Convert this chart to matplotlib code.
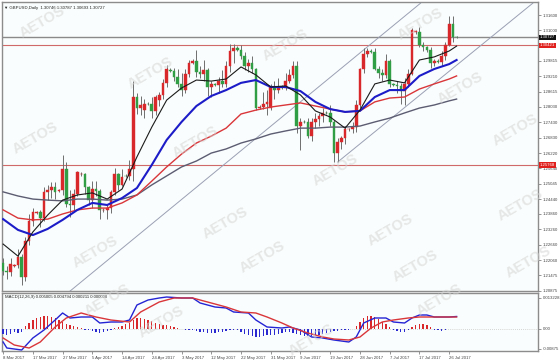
import matplotlib
matplotlib.use("Agg")
import matplotlib.pyplot as plt
import numpy as np

plt.rcParams['font.family'] = ['Liberation Sans', 'DejaVu Sans']

# ---- data (GBPUSD daily, 8 Mar - 28 Jul 2017, Sunday bars included) ----
opens = [1.2195, 1.2165, 1.2160, 1.2185, 1.2188, 1.2220, 1.2140, 1.2280, 1.2360, 1.2390,
         1.2392, 1.2370, 1.2470, 1.2478, 1.2492, 1.2475, 1.2478, 1.2560, 1.2425, 1.2420,
         1.2465, 1.2540, 1.2542, 1.2490, 1.2440, 1.2485, 1.2475, 1.2400, 1.2402, 1.2410,
         1.2470, 1.2540, 1.2500, 1.2535, 1.2532, 1.2560, 1.2840, 1.2800, 1.2790, 1.2815,
         1.2812, 1.2785, 1.2830, 1.2848, 1.2895, 1.2945, 1.2942, 1.2918, 1.2890, 1.2870,
         1.2930, 1.2975, 1.2982, 1.2940, 1.2930, 1.2945, 1.2880, 1.2890, 1.2888, 1.2905,
         1.2893, 1.2960, 1.3020, 1.3030, 1.3025, 1.3000, 1.2960, 1.2975, 1.2950, 1.2800,
         1.2802, 1.2815, 1.2800, 1.2880, 1.2870, 1.2880, 1.2878, 1.2905, 1.2925, 1.2960,
         1.2730, 1.2745, 1.2742, 1.2690, 1.2745, 1.2755, 1.2768, 1.2780, 1.2778, 1.2745,
         1.2625, 1.2665, 1.2680, 1.2715, 1.2718, 1.2725, 1.2810, 1.2950, 1.3010, 1.3020,
         1.3018, 1.2950, 1.2935, 1.2925, 1.2980, 1.2890, 1.2888, 1.2885, 1.2865, 1.2890,
         1.2930, 1.3095, 1.3095, 1.3045, 1.3035, 1.3025, 1.2975, 1.2980, 1.2978, 1.3000,
         1.3045, 1.3125, 1.30746]
highs = [1.2215, 1.2185, 1.2215, 1.2192, 1.2250, 1.2230, 1.2295, 1.2385, 1.2410, 1.2397,
         1.2400, 1.2490, 1.2500, 1.2510, 1.2510, 1.2482, 1.2615, 1.2590, 1.2480, 1.2485,
         1.2555, 1.2548, 1.2545, 1.2495, 1.2515, 1.2515, 1.2485, 1.2408, 1.2420, 1.2480,
         1.2565, 1.2545, 1.2560, 1.2540, 1.2595, 1.2905, 1.2855, 1.2845, 1.2835, 1.2822,
         1.2840, 1.2850, 1.2860, 1.2910, 1.2965, 1.2952, 1.2955, 1.2950, 1.2935, 1.2950,
         1.2985, 1.2990, 1.3025, 1.2960, 1.2985, 1.2955, 1.2905, 1.2897, 1.2920, 1.2945,
         1.2980, 1.3048, 1.3048, 1.3040, 1.3045, 1.3015, 1.2990, 1.3000, 1.2955, 1.2808,
         1.2860, 1.2870, 1.2890, 1.2905, 1.2915, 1.2887, 1.2935, 1.2950, 1.2980, 1.2980,
         1.2760, 1.2752, 1.2760, 1.2760, 1.2780, 1.2780, 1.2800, 1.2787, 1.2810, 1.2750,
         1.2680, 1.2690, 1.2730, 1.2722, 1.2745, 1.2830, 1.2955, 1.3030, 1.3030, 1.3026,
         1.3030, 1.2960, 1.2950, 1.3010, 1.2990, 1.2896, 1.2905, 1.2895, 1.2915, 1.2950,
         1.3110, 1.3102, 1.3115, 1.3055, 1.3040, 1.3035, 1.2990, 1.2987, 1.3020, 1.3055,
         1.3155, 1.3155, 1.30787]
lows = [1.2150, 1.2135, 1.2145, 1.2180, 1.2175, 1.2109, 1.2125, 1.2265, 1.2340, 1.2385,
        1.2335, 1.2360, 1.2440, 1.2450, 1.2445, 1.2470, 1.2460, 1.2415, 1.2375, 1.2400,
        1.2455, 1.2535, 1.2465, 1.2420, 1.2410, 1.2455, 1.2365, 1.2395, 1.2365, 1.2390,
        1.2460, 1.2480, 1.2495, 1.2528, 1.2520, 1.2515, 1.2775, 1.2770, 1.2760, 1.2808,
        1.2760, 1.2770, 1.2805, 1.2835, 1.2880, 1.2938, 1.2905, 1.2880, 1.2845, 1.2855,
        1.2920, 1.2970, 1.2920, 1.2915, 1.2905, 1.2845, 1.2840, 1.2883, 1.2855, 1.2880,
        1.2880, 1.2940, 1.2975, 1.3020, 1.2990, 1.2945, 1.2940, 1.2935, 1.2790, 1.2795,
        1.2795, 1.2770, 1.2790, 1.2835, 1.2855, 1.2873, 1.2870, 1.2895, 1.2915, 1.2700,
        1.2635, 1.2738, 1.2680, 1.2670, 1.2720, 1.2730, 1.2745, 1.2773, 1.2730, 1.2590,
        1.2588, 1.2640, 1.2660, 1.2708, 1.2700, 1.2705, 1.2800, 1.2935, 1.2995, 1.3012,
        1.2945, 1.2915, 1.2905, 1.2915, 1.2880, 1.2883, 1.2855, 1.2815, 1.2810, 1.2880,
        1.2925, 1.3088, 1.3035, 1.3020, 1.3015, 1.2955, 1.2960, 1.2973, 1.2960, 1.2985,
        1.3040, 1.3055, 1.30693]
closes = [1.2165, 1.2160, 1.2190, 1.2188, 1.2220, 1.2140, 1.2280, 1.2360, 1.2395, 1.2392,
          1.2370, 1.2470, 1.2478, 1.2492, 1.2470, 1.2478, 1.2560, 1.2425, 1.2420, 1.2465,
          1.2550, 1.2542, 1.2490, 1.2440, 1.2485, 1.2475, 1.2400, 1.2402, 1.2410, 1.2470,
          1.2540, 1.2500, 1.2530, 1.2532, 1.2560, 1.2840, 1.2800, 1.2810, 1.2815, 1.2812,
          1.2785, 1.2840, 1.2848, 1.2895, 1.2950, 1.2942, 1.2918, 1.2890, 1.2870, 1.2930,
          1.2975, 1.2982, 1.2940, 1.2930, 1.2945, 1.2880, 1.2890, 1.2888, 1.2905, 1.2893,
          1.2960, 1.3020, 1.3030, 1.3025, 1.3000, 1.2960, 1.2975, 1.2950, 1.2800, 1.2802,
          1.2815, 1.2820, 1.2880, 1.2870, 1.2880, 1.2878, 1.2905, 1.2925, 1.2960, 1.2730,
          1.2745, 1.2742, 1.2690, 1.2745, 1.2755, 1.2768, 1.2780, 1.2778, 1.2745, 1.2625,
          1.2665, 1.2680, 1.2715, 1.2718, 1.2725, 1.2810, 1.2950, 1.3010, 1.3020, 1.3018,
          1.2950, 1.2935, 1.2925, 1.2980, 1.2890, 1.2888, 1.2885, 1.2865, 1.2890, 1.2930,
          1.3100, 1.3095, 1.3045, 1.3035, 1.3025, 1.2975, 1.2980, 1.2978, 1.3000, 1.3045,
          1.3125, 1.3075, 1.30727]

# moving averages, sampled every 4 bars
ma_idx = [0, 4, 8, 12, 16, 20, 24, 28, 32, 36, 40, 44, 48, 52, 56, 60, 64, 68, 72, 76,
          80, 84, 88, 92, 96, 100, 104, 108, 112, 116, 120, 122]
ma_fast = [1.2269, 1.2222, 1.2316, 1.2382, 1.2440, 1.2460, 1.2468, 1.2444, 1.2483, 1.2608,
           1.2724, 1.2829, 1.2876, 1.2907, 1.2903, 1.2911, 1.2958, 1.2927, 1.2880, 1.2884,
           1.2849, 1.2787, 1.2763, 1.2720, 1.2790, 1.2892, 1.2907, 1.2896, 1.2985, 1.2997,
           1.3020, 1.3039]
ma_blue = [1.2366, 1.2324, 1.2304, 1.2328, 1.2363, 1.2402, 1.2429, 1.2421, 1.2448, 1.2487,
           1.2577, 1.2674, 1.2744, 1.2806, 1.2845, 1.2868, 1.2896, 1.2907, 1.2880, 1.2880,
           1.2864, 1.2822, 1.2794, 1.2783, 1.2787, 1.2841, 1.2868, 1.2868, 1.2923, 1.2950,
           1.2969, 1.2985]
ma_red = [1.2402, 1.2370, 1.2363, 1.2366, 1.2386, 1.2402, 1.2409, 1.2409, 1.2429, 1.2460,
          1.2514, 1.2569, 1.2619, 1.2662, 1.2689, 1.2720, 1.2775, 1.2790, 1.2802, 1.2810,
          1.2818, 1.2806, 1.2794, 1.2783, 1.2787, 1.2822, 1.2837, 1.2841, 1.2872, 1.2892,
          1.2911, 1.2923]
ma_slow = [1.2472, 1.2456, 1.2444, 1.2440, 1.2437, 1.2444, 1.2444, 1.2440, 1.2444, 1.2460,
           1.2499, 1.2534, 1.2569, 1.2592, 1.2623, 1.2639, 1.2662, 1.2678, 1.2697, 1.2709,
           1.2720, 1.2720, 1.2724, 1.2724, 1.2728, 1.2744, 1.2759, 1.2779, 1.2798, 1.2810,
           1.2826, 1.2833]

# MACD(12,26,9)
macd_idx = [0, 1, 5, 8, 11, 14, 16, 18, 21, 24, 26, 29, 32, 34, 36, 39, 42, 44, 48, 51,
            53, 57, 60, 62, 66, 68, 71, 75, 77, 80, 83, 86, 89, 93, 95, 97, 100, 103, 105,
            108, 110, 112, 114, 116, 120, 122]
macd_line = [-0.0052, -0.0076, -0.0084, -0.0036, -0.0004, 0.0036, 0.0064, 0.0044, 0.0048,
             0.0048, 0.0024, 0.0028, 0.0028, 0.0036, 0.0096, 0.0116, 0.0124, 0.0128, 0.0124,
             0.0124, 0.0104, 0.0088, 0.0084, 0.0068, 0.0064, 0.0036, 0.0008, 0.0004, 0.0008,
             -0.0004, -0.0032, -0.0036, -0.0044, -0.0052, -0.0032, 0.0024, 0.0044, 0.0044,
             0.0028, 0.0024, 0.0044, 0.0056, 0.0056, 0.0048, 0.0048, 0.0050]
signal_idx = [0, 3, 7, 10, 14, 17, 21, 25, 29, 34, 37, 42, 46, 51, 55, 60, 64, 68, 71, 75,
              78, 82, 86, 89, 93, 96, 99, 102, 105, 109, 112, 116, 120, 122]
signal_line = [-0.0036, -0.0064, -0.0076, -0.0052, 0.0008, 0.0044, 0.0064, 0.0048, 0.0036,
               0.0028, 0.0068, 0.0108, 0.0124, 0.0124, 0.0108, 0.0088, 0.0068, 0.0064, 0.0048,
               0.0024, 0.0004, -0.0016, -0.0032, -0.0040, -0.0044, -0.0032, 0.0004, 0.0028,
               0.0036, 0.0044, 0.0048, 0.0048, 0.0048, 0.0048]
hist_px = [-5, -6, -5, -3, -4, -3,
           3, 6, 9, 11, 12, 13, 13, 12, 11, 9, 7, 5, 4, 3, 2, 1,
           -1, -1, -2, -3, -4, -3, -2, -1,
           1, 2, 3, 5, 6, 9, 11, 11, 10, 9, 8, 6, 5, 4, 4, 3, 2, 1,
           0.5, -1, -1, -1, -2, -3, -3, -4, -4, -4, -3, -3, -2, -1, -1, -1,
           -3, -5, -6, -7, -8, -8, -7, -6, -6, -6, -5,
           -4, -3, -3, -4, -5, -6, -7, -7, -7, -6, -6, -5, -4, -3, -2, -2, -1, -1, -1, 0.5,
           3, 7, 11, 13, 13, 12, 10, 7, 5, 2,
           -1, -2, -3, -3, -1,
           2, 4, 5, 5, 4, 2,
           -1, -1, -2, -1, 0.5, 0.5, 0.5]
hist = [v * 0.0004 for v in hist_px]

date_idx = [0, 8, 16, 24, 32, 40, 48, 56, 64, 72, 80, 88, 96, 104, 112, 120]
date_labels = ['8 Mar 2017', '17 Mar 2017', '27 Mar 2017', '5 Apr 2017', '14 Apr 2017',
               '24 Apr 2017', '3 May 2017', '12 May 2017', '22 May 2017', '31 May 2017',
               '9 Jun 2017', '19 Jun 2017', '28 Jun 2017', '7 Jul 2017', '17 Jul 2017',
               '26 Jul 2017']
price_ticks = [1.31600, 1.31000, 1.29815, 1.29210, 1.28615, 1.28030, 1.27430, 1.26830,
               1.26220, 1.25640, 1.25045, 1.24440, 1.23860, 1.23260, 1.22660, 1.22060,
               1.21475, 1.20875]
level_hi = 1.30421
level_lo = 1.25768
last_price = 1.30727
header = "GBPUSD,Daily  1.30746 1.30787 1.30693 1.30727"
macd_title = "MACD(12,26,9) 0.005005 0.004794 0.000211 0.000000"

# trend channel: (bar index, price) end points
chan_upper = [(18, 1.2086), (112.3, 1.3206)]
chan_lower = [(90, 1.2588), (142.5, 1.3206)]

# "AETOS" watermark spots, pixel positions in the 560x363 picture
wm_px = [(35, 138), (150, 73), (285, 45), (420, 24), (460, 88), (515, 130),
         (195, 142), (335, 170), (225, 223), (390, 230), (520, 205), (95, 252),
         (262, 257), (415, 266), (528, 262), (107, 300), (161, 322), (311, 340),
         (439, 300), (42, 22)]

BG = '#fafdfd'
UP = '#d8282c'
DN = '#2f9e44'
WICK = '#6e6e6e'
FS = 3.1

fig = plt.figure(figsize=(5.6, 3.63), dpi=100, facecolor='white')
ax = fig.add_axes([2 / 560, 1 - 291 / 363, 536 / 560, 289 / 363], facecolor=BG)
axm = fig.add_axes([2 / 560, 1 - 351 / 363, 536 / 560, 58 / 363], facecolor=BG)

xlim = (-0.3, 143.9)
n = len(closes)
idx = np.arange(n)
o = np.array(opens); h = np.array(highs); l = np.array(lows); c = np.array(closes)

# candles
ax.vlines(idx, l, h, color=WICK, lw=0.7, zorder=3)
body_lo = np.minimum(o, c)
body_h = np.maximum(np.abs(c - o), 0.00025)
cols = [UP if cc >= oo else DN for oo, cc in zip(o, c)]
ax.bar(idx, body_h, bottom=body_lo, width=0.72, color=cols, edgecolor=cols, lw=0.3, zorder=4)

# moving averages
ax.plot(ma_idx, ma_slow, color='#5c5c72', lw=1.0, zorder=5)
ax.plot(ma_idx, ma_red, color='#d9363a', lw=1.0, zorder=5)
ax.plot(ma_idx, ma_blue, color='#1c1cc8', lw=1.5, zorder=5)
ax.plot(ma_idx, ma_fast, color='#1a1a1a', lw=0.8, zorder=6)

# horizontal levels
ax.axhline(level_hi, color='#d06a6a', lw=0.8, zorder=2)
ax.axhline(level_lo, color='#d06a6a', lw=0.8, zorder=2)
ax.axhline(last_price, color='#8a8a8a', lw=1.0, zorder=2)

# channel lines
for (x0, y0), (x1, y1) in (chan_upper, chan_lower):
    ax.plot([x0, x1], [y0, y1], color='#9aa0b4', lw=0.7, zorder=2)

ax.set_xlim(*xlim)
ax.set_ylim(1.20864, 1.32106)
ax.yaxis.tick_right()
ax.set_yticks(price_ticks)
ax.set_yticklabels([f"{v:.5f}" for v in price_ticks])
ax.tick_params(axis='y', labelsize=FS, length=2, width=0.4, pad=1.5, colors='#444444')
ax.set_xticks([])

# right-hand price boxes
trans = ax.get_yaxis_transform()
ax.text(1.003, last_price, f"{last_price:.5f}", transform=trans, fontsize=FS, color='white',
        va='center', ha='left', bbox=dict(boxstyle='square,pad=0.15', fc='#111111', ec='none'))
for lv in (level_hi, level_lo):
    ax.text(1.003, lv, f"{lv:.5f}", transform=trans, fontsize=FS, color='white',
            va='center', ha='left', bbox=dict(boxstyle='square,pad=0.15', fc='#e0201c', ec='none'))

ax.text(0.004, 0.985, "\u25bc " + header, transform=ax.transAxes, fontsize=FS,
        color='#222222', va='top', ha='left')

# MACD panel
hcols = [UP if v > 0 else '#2a2ad0' for v in hist]
axm.bar(idx, hist, width=0.35, color=hcols, zorder=3)
axm.axhline(0, color='#b0b0b0', lw=0.5, ls=(0, (1, 2)), zorder=1)
axm.plot(macd_idx, macd_line, color='#2424d4', lw=1.0, zorder=4)
axm.plot(signal_idx, signal_line, color='#d9363a', lw=1.0, zorder=4)
axm.set_xlim(*xlim)
axm.set_ylim(-0.0088, 0.0144)
axm.yaxis.tick_right()
axm.set_yticks([0.0125, 0.0, -0.0080])
axm.set_yticklabels(['0.013228', '0.00', '-0.00875'])
axm.tick_params(axis='y', labelsize=FS, length=2, width=0.4, pad=1.5, colors='#444444')
axm.set_xticks(date_idx)
axm.set_xticklabels(date_labels, ha='left')
axm.tick_params(axis='x', labelsize=FS, length=2, width=0.4, pad=1.5, colors='#444444')
axm.text(0.006, 0.96, macd_title, transform=axm.transAxes, fontsize=FS,
         color='#222222', va='top', ha='left')

for a in (ax, axm):
    for s in a.spines.values():
        s.set_color('#8c8c8c')
        s.set_linewidth(1.0)

# watermark
for px, py in wm_px:
    fig.text(px / 560, 1 - py / 363, 'AETOS', fontsize=10.5, fontweight='bold',
             color='#d4d4d4', alpha=0.55, rotation=30, ha='center', va='center', zorder=0.5)

fig.savefig('out.png', dpi=100, facecolor='white')
